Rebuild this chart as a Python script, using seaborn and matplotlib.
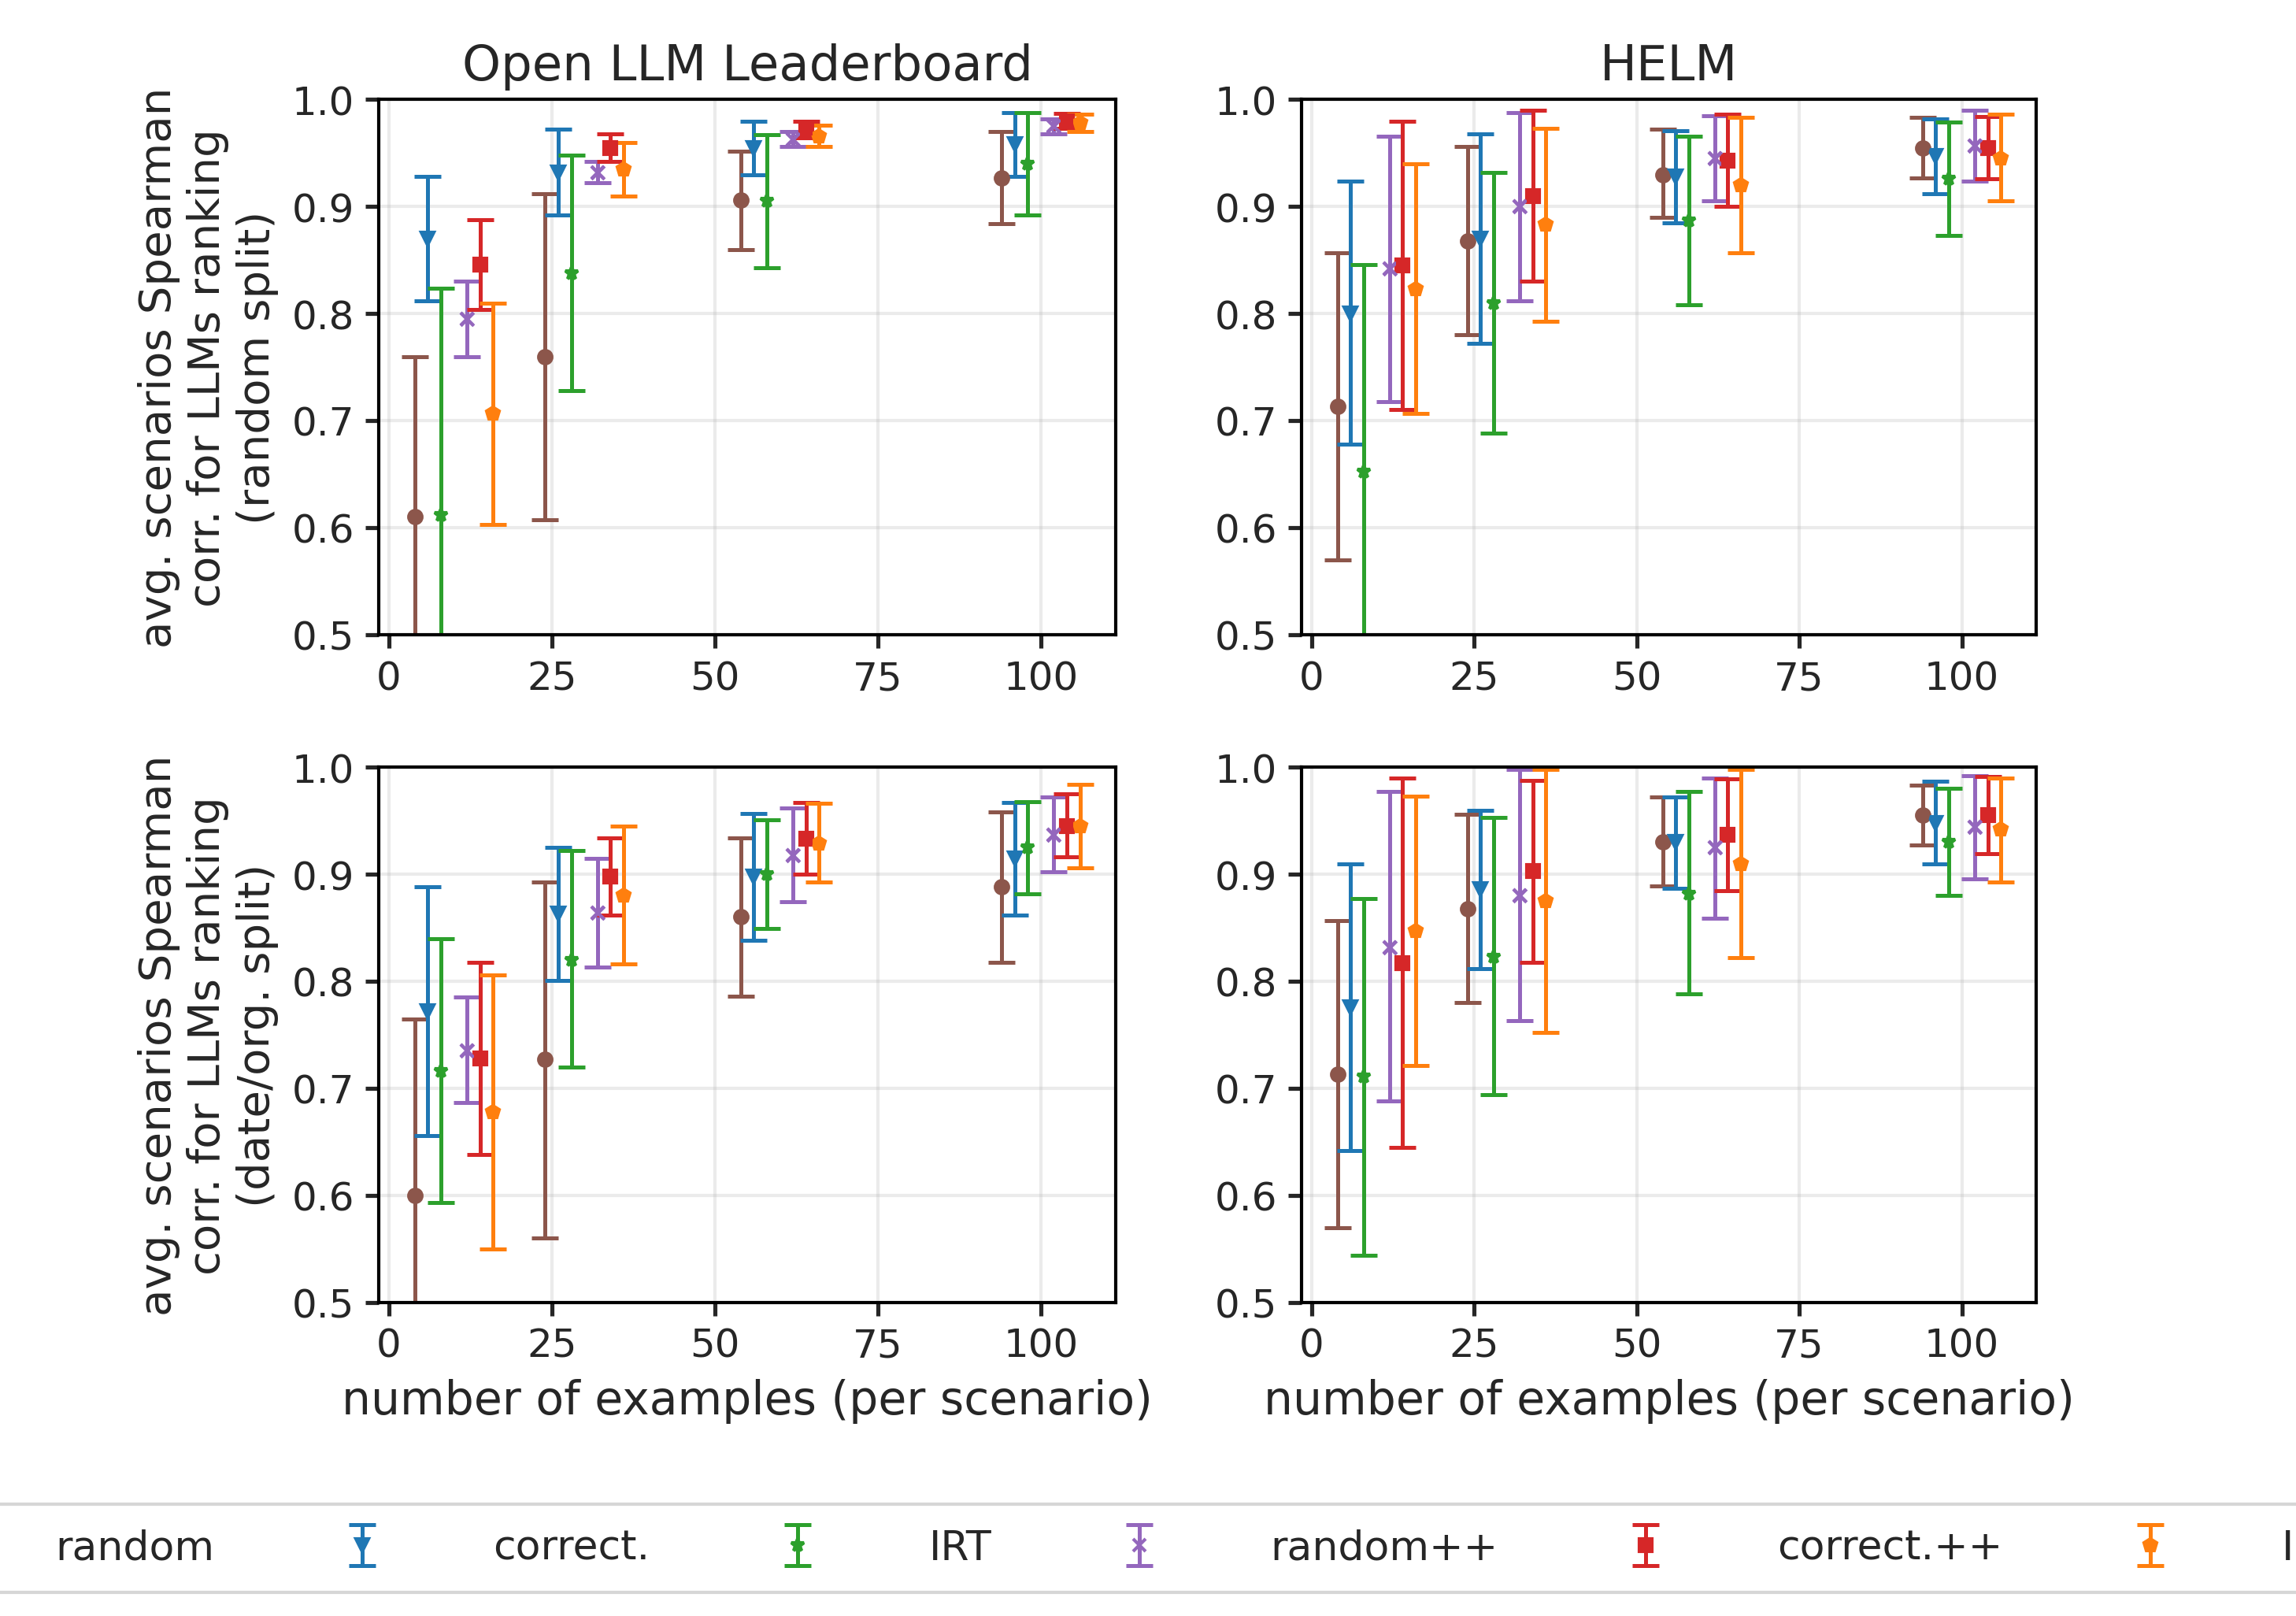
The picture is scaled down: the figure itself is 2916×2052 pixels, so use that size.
import numpy as np
import pandas as pd
import matplotlib
matplotlib.use("Agg")
import matplotlib.pyplot as plt
import seaborn as sns

methods = ["random", "correct.", "IRT", "random++", "correct.++", "IRT++"]
colors = ["#8c564b", "#1f77b4", "#2ca02c", "#9467bd", "#d62728", "#ff7f0e"]
markers = ["o", "v", "*", "x", "s", "p"]
offsets = [-6, -4, -2, 2, 4, 6]
n_examples = [10, 30, 60, 100]

# (mean, lower, upper) per method, per n
tl = {
 "random": [(0.61,0.46,0.76),(0.76,0.607,0.912),(0.906,0.86,0.952),(0.927,0.884,0.97)],
 "correct.": [(0.87,0.812,0.928),(0.932,0.892,0.972),(0.955,0.93,0.98),(0.958,0.928,0.988)],
 "IRT": [(0.612,0.40,0.824),(0.838,0.728,0.948),(0.905,0.843,0.967),(0.94,0.892,0.988)],
 "random++": [(0.795,0.76,0.83),(0.932,0.922,0.942),(0.963,0.956,0.97),(0.975,0.968,0.982)],
 "correct.++": [(0.846,0.804,0.888),(0.955,0.942,0.968),(0.972,0.964,0.98),(0.98,0.973,0.987)],
 "IRT++": [(0.707,0.603,0.81),(0.935,0.91,0.96),(0.966,0.956,0.976),(0.978,0.97,0.986)],
}
tr = {
 "random": [(0.713,0.57,0.857),(0.868,0.78,0.956),(0.93,0.89,0.972),(0.955,0.927,0.983)],
 "correct.": [(0.80,0.678,0.924),(0.87,0.772,0.968),(0.928,0.885,0.971),(0.947,0.912,0.982)],
 "IRT": [(0.652,0.46,0.846),(0.81,0.688,0.932),(0.887,0.808,0.966),(0.926,0.873,0.979)],
 "random++": [(0.842,0.718,0.966),(0.9,0.812,0.988),(0.945,0.905,0.985),(0.957,0.924,0.99)],
 "correct.++": [(0.845,0.71,0.98),(0.91,0.83,0.99),(0.943,0.9,0.986),(0.955,0.926,0.984)],
 "IRT++": [(0.823,0.707,0.94),(0.883,0.793,0.973),(0.92,0.857,0.983),(0.945,0.905,0.986)],
}
bl = {
 "random": [(0.60,0.44,0.765),(0.727,0.56,0.893),(0.86,0.786,0.934),(0.888,0.818,0.958)],
 "correct.": [(0.772,0.656,0.888),(0.863,0.801,0.925),(0.898,0.838,0.957),(0.915,0.862,0.967)],
 "IRT": [(0.716,0.593,0.84),(0.82,0.72,0.922),(0.9,0.849,0.951),(0.925,0.882,0.968)],
 "random++": [(0.735,0.687,0.785),(0.864,0.813,0.915),(0.918,0.874,0.962),(0.937,0.902,0.972)],
 "correct.++": [(0.728,0.638,0.818),(0.898,0.862,0.934),(0.933,0.9,0.967),(0.945,0.916,0.975)],
 "IRT++": [(0.678,0.55,0.806),(0.88,0.816,0.945),(0.929,0.893,0.966),(0.945,0.906,0.984)],
}
br = {
 "random": [(0.713,0.57,0.857),(0.868,0.78,0.956),(0.93,0.889,0.972),(0.955,0.927,0.983)],
 "correct.": [(0.776,0.642,0.91),(0.886,0.812,0.96),(0.93,0.887,0.972),(0.948,0.91,0.987)],
 "IRT": [(0.711,0.544,0.877),(0.823,0.694,0.953),(0.882,0.788,0.977),(0.93,0.88,0.98)],
 "random++": [(0.832,0.688,0.977),(0.88,0.763,0.998),(0.925,0.859,0.99),(0.944,0.896,0.992)],
 "correct.++": [(0.817,0.645,0.99),(0.903,0.818,0.988),(0.937,0.885,0.989),(0.955,0.919,0.991)],
 "IRT++": [(0.847,0.721,0.973),(0.875,0.752,0.998),(0.91,0.822,0.998),(0.942,0.893,0.99)],
}

sns.set_theme(style="ticks", rc={"axes.grid": True, "grid.alpha": 0.25, "grid.color": "#b0b0b0"})
plt.rcParams['font.family'] = ['DejaVu Sans']
plt.rcParams['font.size'] = 12

fig = plt.figure(figsize=(9.72, 6.843), dpi=300)
pos = [[0.165, 0.607, 0.321, 0.331], [0.567, 0.607, 0.32, 0.331],
       [0.165, 0.194, 0.321, 0.331], [0.567, 0.194, 0.32, 0.331]]
panels = [tl, tr, bl, br]
handles = []
for pi, (p, data) in enumerate(zip(pos, panels)):
    ax = fig.add_axes(p)
    for mi, m in enumerate(methods):
        arr = np.array(data[m])
        x = np.array(n_examples) + offsets[mi]
        h = ax.errorbar(x, arr[:, 0], yerr=[arr[:, 0]-arr[:, 1], arr[:, 2]-arr[:, 0]],
                        fmt=markers[mi], color=colors[mi], ms=4, capsize=4, elinewidth=1.2,
                        capthick=1.2, lw=0)
        df = pd.DataFrame({"x": x, "y": arr[:, 0]})
        sns.scatterplot(data=df, x="x", y="y", ax=ax, marker=markers[mi], color=colors[mi],
                        s=16, linewidth=0 if markers[mi] != "x" else 1, zorder=3)
        if pi == 0:
            handles.append(h)
    ax.set_ylim(0.5, 1.0)
    ax.set_xlim(-1.5, 111.5)
    ax.set_xticks([0, 25, 50, 75, 100])
    ax.set_yticks([0.5, 0.6, 0.7, 0.8, 0.9, 1.0])
    ax.tick_params(labelsize=12, direction="out", length=4)
    for s in ax.spines.values():
        s.set_color("black"); s.set_linewidth(1)
    ax.set_xlabel("number of examples (per scenario)" if pi >= 2 else "", fontsize=14)
    ax.set_ylabel("")
    if pi == 0:
        ax.set_title("Open LLM Leaderboard", fontsize=15)
        ax.set_ylabel("avg. scenarios Spearman\ncorr. for LLMs ranking\n(random split)", fontsize=13.5)
    if pi == 1:
        ax.set_title("HELM", fontsize=15)
    if pi == 2:
        ax.set_ylabel("avg. scenarios Spearman\ncorr. for LLMs ranking\n(date/org. split)", fontsize=13.5)

leg = fig.legend(handles, methods, loc="center", bbox_to_anchor=(0.5, 0.042), ncol=6,
                 fontsize=12.5, frameon=True, handletextpad=2.2, columnspacing=2.6,
                 borderpad=0.6, handlelength=2.0)
leg.get_frame().set_edgecolor("#cccccc")
fig.savefig("out.png", dpi=300)
